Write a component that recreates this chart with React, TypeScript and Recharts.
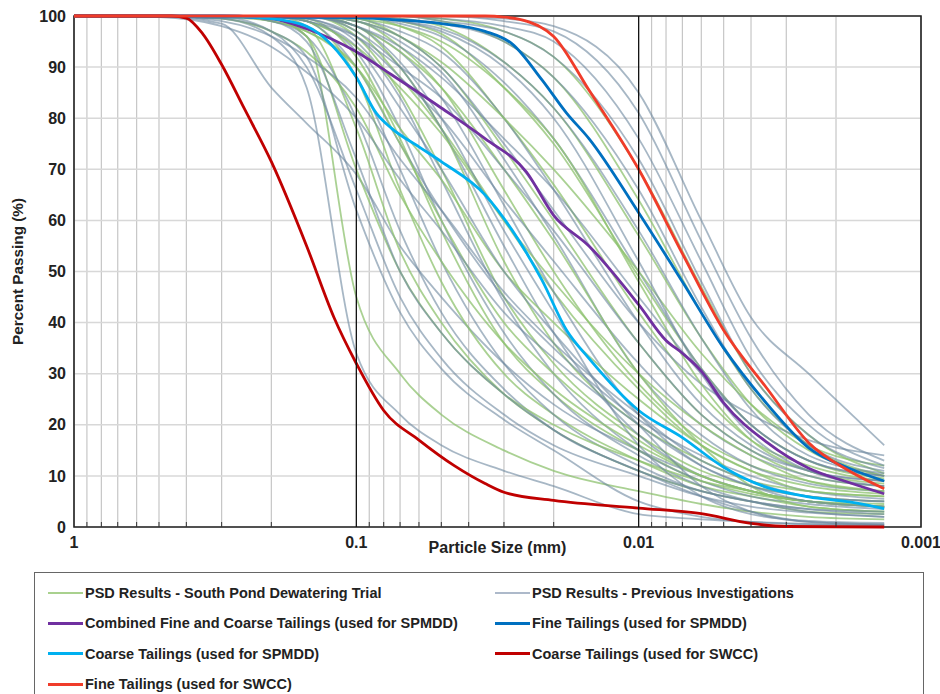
import React from 'react';
import {
  LineChart,
  Line,
  XAxis,
  YAxis,
  CartesianGrid,
  ReferenceLine,
  ReferenceArea,
  Label,
} from 'recharts';

// axis ticks
const SIZE_TICKS = [1, 0.1, 0.01, 0.001];
const SIZE_MINOR = [
  0.9, 0.8, 0.7, 0.6, 0.5, 0.4, 0.3, 0.2,
  0.09, 0.08, 0.07, 0.06, 0.05, 0.04, 0.03, 0.02,
  0.009, 0.008, 0.007, 0.006, 0.005, 0.004, 0.003, 0.002,
];
const PCT_TICKS = [0, 10, 20, 30, 40, 50, 60, 70, 80, 90, 100];
const PCT_MINOR = [5, 15, 25, 35, 45, 55, 65, 75, 85, 95];

// particle sizes (mm) used for the background PSD results
const SIZES = [1, 0.5, 0.3, 0.2, 0.15, 0.1, 0.07, 0.05, 0.03, 0.02, 0.01, 0.006, 0.004, 0.0025, 0.00135];

// PSD Results - South Pond Dewatering Trial (% passing at SIZES)
const TRIAL_RESULTS = [
  [100, 100, 100, 99.5, 96, 45, 30, 22, 15, 11, 7, 4.5, 3, 2, 1.5],
  [100, 100, 100, 100, 98, 78, 54, 40, 26, 19, 11, 7, 5, 3, 2.5],
  [100, 100, 100, 100, 99, 88, 66, 48, 30, 22, 13, 8, 6, 4, 3],
  [100, 100, 100, 100, 99.5, 92, 76, 58, 36, 26, 15, 9, 6.5, 5, 4],
  [100, 100, 100, 100, 100, 96, 85, 70, 45, 32, 18, 11, 8, 6, 5],
  [100, 100, 100, 100, 100, 98, 90, 78, 52, 36, 20, 13, 9, 7, 6],
  [100, 100, 100, 100, 100, 97, 88, 78, 60, 46, 27, 16, 11, 8, 6.5],
  [100, 100, 100, 100, 100, 99, 94, 86, 66, 50, 28, 17, 12, 9, 7],
  [100, 100, 100, 100, 100, 99.5, 96, 90, 74, 60, 36, 22, 15, 10, 8],
  [100, 100, 100, 100, 100, 100, 98, 94, 80, 67, 42, 26, 17, 12, 9],
  [100, 100, 100, 100, 100, 100, 99, 96.5, 86, 75, 49, 31, 20, 13, 9.5],
  [100, 100, 100, 100, 100, 100, 99.5, 98, 91, 82, 57, 37, 24, 15, 10],
  [100, 100, 100, 100, 100, 100, 100, 99, 95, 88, 64, 42, 27, 16, 10],
  [100, 100, 100, 100, 100, 100, 100, 99.5, 97, 92, 70, 47, 30, 18, 10.5],
  [100, 100, 100, 100, 100, 99, 96, 91, 80, 70, 50, 34, 24, 16, 12],
  [100, 100, 100, 100, 100, 98, 93, 86, 70, 56, 30, 16, 8, 4, 3],
  [100, 100, 100, 99.5, 96, 70, 50, 38, 26, 20, 13, 9, 7, 5, 4.5],
  [100, 100, 99.8, 99, 97, 90, 78, 68, 50, 40, 25, 16, 11, 7, 6],
  [100, 100, 99.5, 97, 93, 82, 65, 52, 36, 27, 16, 10, 7, 5, 4],
  [100, 100, 100, 99, 97, 90, 75, 60, 40, 30, 17, 10, 7, 5, 4],
  [100, 100, 100, 100, 100, 99.5, 98, 95, 86, 76, 48, 28, 17, 11, 8.5],
  [100, 100, 100, 100, 99, 94, 86, 77, 60, 48, 30, 20, 14, 9, 7],
];

// PSD Results - Previous Investigations (% passing at SIZES)
const PREVIOUS_RESULTS = [
  [100, 100, 99.5, 96, 86, 34, 22, 16, 11, 8, 2.5, 1.5, 1, 0.6, 0.3],
  [100, 100, 98.5, 86, 79, 69, 55, 45, 32, 24, 15, 10, 7, 5, 4],
  [100, 100, 99.8, 97, 90, 66, 45, 33, 22, 16, 10, 6, 4, 2.8, 2],
  [100, 100, 100, 99, 96, 80, 58, 42, 27, 19, 11, 6, 3, 1, 0.5],
  [100, 100, 100, 99.5, 98, 88, 70, 52, 32, 22, 12, 7, 5, 3.5, 2.5],
  [100, 100, 100, 100, 99, 93, 78, 60, 38, 26, 14, 8, 5, 3, 2],
  [100, 100, 100, 100, 99.5, 95, 84, 68, 44, 30, 15, 9, 6, 4.5, 3.5],
  [100, 100, 100, 100, 99, 90, 75, 62, 45, 35, 21, 14, 10, 7, 5.5],
  [100, 100, 100, 100, 100, 97, 90, 78, 55, 38, 18, 10, 7, 5, 4],
  [100, 100, 100, 100, 100, 98, 93, 84, 63, 46, 22, 12, 8, 6, 5],
  [100, 100, 100, 100, 99.5, 96, 88, 80, 64, 52, 32, 20, 14, 10, 8],
  [100, 100, 100, 100, 100, 99, 95, 89, 72, 57, 30, 18, 12, 8.5, 7],
  [100, 100, 100, 100, 100, 99.5, 97, 93, 80, 66, 40, 24, 16, 11, 9],
  [100, 100, 100, 100, 100, 100, 98.5, 96, 87, 76, 50, 31, 20, 13, 10],
  [100, 100, 100, 100, 100, 100, 99, 97.5, 91, 82, 58, 37, 23, 14, 10.5],
  [100, 100, 100, 100, 100, 100, 99.5, 98.5, 95, 88, 66, 43, 27, 16, 11],
  [100, 100, 100, 100, 100, 100, 100, 99, 97, 92, 72, 48, 30, 18, 11.5],
  [100, 100, 100, 100, 100, 100, 100, 99.5, 98, 95, 76, 52, 33, 20, 12],
  [100, 100, 100, 100, 100, 100, 100, 100, 99, 97, 81, 56, 37, 22, 13],
  [100, 100, 100, 100, 100, 100, 100, 100, 99.5, 98, 85, 60, 41, 30, 16],
  [100, 100, 100, 100, 100, 99, 96, 90, 75, 62, 40, 28, 22, 17, 14],
  [100, 100, 100, 100, 99, 94, 82, 70, 50, 38, 20, 8, 3, 1, 0.5],
  [100, 100, 100, 100, 100, 98, 91, 80, 58, 42, 16, 6, 2.5, 1.2, 0.8],
  [100, 100, 100, 99.8, 99, 96, 90, 84, 70, 58, 36, 22, 15, 11, 9],
  [100, 100, 100, 99, 95, 72, 50, 38, 26, 19, 11, 7, 5, 3.5, 3],
  [100, 100, 99.5, 97, 92, 62, 42, 31, 21, 15, 5, 2, 1, 0.5, 0.3],
  [100, 99.8, 98, 94, 89, 80, 68, 58, 42, 33, 20, 12, 8, 5, 4],
  [100, 100, 99, 96, 92, 84, 72, 62, 46, 36, 22, 13, 9, 6, 5],
  [100, 100, 100, 100, 100, 99.8, 99, 97, 90, 80, 52, 30, 18, 11, 8],
  [100, 100, 100, 100, 99.8, 98, 94, 88, 76, 66, 45, 30, 20, 13, 10],
];

// highlighted curves
const COMBINED_SIZE = [1, 0.3, 0.2, 0.15, 0.1, 0.075, 0.05, 0.035, 0.025, 0.02, 0.015, 0.01, 0.008, 0.007, 0.006, 0.005, 0.0035, 0.0025, 0.0018, 0.00135];
const COMBINED_PCT = [100, 100, 99.5, 97.5, 93, 88.5, 82, 76, 69.5, 61, 55, 43.5, 36.5, 34, 30.5, 24.3, 16.5, 11.5, 8.7, 6.5];

const FINE_SPMDD_SIZE = [1, 0.1, 0.075, 0.05, 0.035, 0.028, 0.022, 0.018, 0.015, 0.01, 0.007, 0.005, 0.0035, 0.0025, 0.0018, 0.00135];
const FINE_SPMDD_PCT = [100, 99.7, 99.3, 98.5, 97, 94.5, 87.5, 81, 76, 61.5, 48, 35, 24, 15.5, 11.5, 9];

const COARSE_SPMDD_SIZE = [1, 0.3, 0.2, 0.15, 0.1, 0.085, 0.075, 0.06, 0.05, 0.035, 0.028, 0.025, 0.022, 0.018, 0.015, 0.01, 0.007, 0.005, 0.0035, 0.0025, 0.0018, 0.00135];
const COARSE_SPMDD_PCT = [100, 100, 99.5, 98, 88, 81, 78, 74.4, 71.5, 65, 58, 53.7, 48.3, 38.5, 33, 22.8, 17.5, 11.7, 7.7, 5.9, 4.9, 3.6];

const COARSE_SWCC_SIZE = [1, 0.45, 0.4, 0.35, 0.3, 0.25, 0.2, 0.15, 0.12, 0.1, 0.08, 0.06, 0.045, 0.035, 0.03, 0.02, 0.01, 0.006, 0.004, 0.003, 0.00135];
const COARSE_SWCC_PCT = [100, 100, 99.6, 96.5, 90.5, 82, 71.5, 55, 41, 32, 22.8, 17, 12, 8.5, 6.8, 5.2, 3.7, 2.6, 0.7, 0.1, 0];

const FINE_SWCC_SIZE = [1, 0.1, 0.035, 0.03, 0.025, 0.02, 0.015, 0.01, 0.007, 0.005, 0.0035, 0.0025, 0.0018, 0.00135];
const FINE_SWCC_PCT = [100, 100, 100, 99.8, 99, 96, 85.5, 70, 53.5, 38.5, 27, 16.5, 11, 7.5];

const TRIAL_COLOR = '#8DC26F';
const PREVIOUS_COLOR = '#6D879F';
const PURPLE = '#7030A0';
const BLUE = '#0070C0';
const LIGHT_BLUE = '#00B0F0';
const DARK_RED = '#C00000';
const RED = '#F03C2A';

const FONT = '"Liberation Sans", Arial, sans-serif';

const LEGEND_ITEMS = [
  { label: 'PSD Results - South Pond Dewatering Trial', color: '#A9D18E', width: 2 },
  { label: 'PSD Results - Previous Investigations', color: '#ADB9CA', width: 2 },
  { label: 'Combined Fine and Coarse Tailings (used for SPMDD)', color: PURPLE, width: 3 },
  { label: 'Fine Tailings (used for SPMDD)', color: BLUE, width: 3 },
  { label: 'Coarse Tailings (used for SPMDD)', color: LIGHT_BLUE, width: 3 },
  { label: 'Coarse Tailings (used for SWCC)', color: DARK_RED, width: 3 },
  { label: 'Fine Tailings (used for SWCC)', color: RED, width: 3 },
];

const toPoints = (sizes: number[], pct: number[]) =>
  sizes.map((x, i) => ({ x, y: pct[i] }));

const HIGHLIGHTS = [
  { id: 'combined', sizes: COMBINED_SIZE, pct: COMBINED_PCT, color: PURPLE },
  { id: 'fineSpmdd', sizes: FINE_SPMDD_SIZE, pct: FINE_SPMDD_PCT, color: BLUE },
  { id: 'coarseSpmdd', sizes: COARSE_SPMDD_SIZE, pct: COARSE_SPMDD_PCT, color: LIGHT_BLUE },
  { id: 'coarseSwcc', sizes: COARSE_SWCC_SIZE, pct: COARSE_SWCC_PCT, color: DARK_RED },
  { id: 'fineSwcc', sizes: FINE_SWCC_SIZE, pct: FINE_SWCC_PCT, color: RED },
];

const tickStyle = { fontSize: 16, fontWeight: 700, fill: '#222', fontFamily: FONT };

const NoTick = () => <g />;

export default function App() {
  const background: React.ReactNode[] = [];
  const n = Math.max(TRIAL_RESULTS.length, PREVIOUS_RESULTS.length);
  for (let i = 0; i < n; i++) {
    if (PREVIOUS_RESULTS[i]) {
      background.push(
        <Line
          key={'prev' + i}
          data={toPoints(SIZES, PREVIOUS_RESULTS[i])}
          dataKey="y"
          type="monotone"
          stroke={PREVIOUS_COLOR}
          strokeOpacity={0.6}
          strokeWidth={1.8}
          dot={false}
          activeDot={false}
          isAnimationActive={false}
        />
      );
    }
    if (TRIAL_RESULTS[i]) {
      background.push(
        <Line
          key={'trial' + i}
          data={toPoints(SIZES, TRIAL_RESULTS[i])}
          dataKey="y"
          type="monotone"
          stroke={TRIAL_COLOR}
          strokeOpacity={0.75}
          strokeWidth={1.8}
          dot={false}
          activeDot={false}
          isAnimationActive={false}
        />
      );
    }
  }

  return (
    <div
      style={{
        position: 'absolute',
        left: 0,
        top: 0,
        width: 940,
        height: 694,
        overflow: 'hidden',
        background: '#fff',
        fontFamily: FONT,
      }}
    >
      <LineChart width={940} height={694} margin={{ top: 16, right: 19, left: 0, bottom: 131 }}>
        <CartesianGrid xAxisId="minor" horizontal={false} stroke="#c6c6c6" strokeWidth={1.2} />
        <CartesianGrid vertical={false} stroke="#d8d8d8" strokeWidth={1.5} />
        <XAxis
          dataKey="x"
          type="number"
          scale="log"
          domain={[0.001, 1]}
          reversed
          allowDataOverflow
          ticks={SIZE_TICKS}
          tickFormatter={(v: number) => String(v)}
          tick={tickStyle}
          tickLine={false}
          axisLine={false}
          tickSize={0}
          tickMargin={10}
          height={36}
        >
          <Label
            value="Particle Size (mm)"
            position="insideBottom"
            offset={10}
            style={{ fontSize: 16, fontWeight: 700, fill: '#222', fontFamily: FONT }}
          />
        </XAxis>
        <XAxis
          xAxisId="minor"
          dataKey="x"
          type="number"
          scale="log"
          domain={[0.001, 1]}
          reversed
          allowDataOverflow
          ticks={SIZE_MINOR}
          interval={0}
          tick={<NoTick />}
          tickLine={{ stroke: '#333' }}
          tickSize={5}
          axisLine={false}
          mirror
          height={1}
        />
        <YAxis
          type="number"
          domain={[0, 100]}
          ticks={PCT_TICKS}
          tick={tickStyle}
          tickLine={false}
          axisLine={false}
          tickSize={0}
          tickMargin={8}
          width={74}
        >
          <Label
            content={(p: any) => {
              const vb = p.viewBox || { x: 0, y: 16, height: 511 };
              const cx = vb.x + 17;
              const cy = vb.y + vb.height / 2;
              return (
                <text
                  x={cx}
                  y={cy}
                  transform={`rotate(-90 ${cx} ${cy})`}
                  textAnchor="middle"
                  dominantBaseline="central"
                  style={{ fontSize: 15.3, fontWeight: 700, fill: '#222', fontFamily: FONT }}
                >
                  Percent Passing (%)
                </text>
              );
            }}
          />
        </YAxis>
        <YAxis
          yAxisId="minor"
          type="number"
          domain={[0, 100]}
          ticks={PCT_MINOR}
          interval={0}
          tick={<NoTick />}
          tickLine={{ stroke: '#333' }}
          tickSize={5}
          axisLine={false}
          mirror
          width={1}
        />

        {background}

        {HIGHLIGHTS.map((h) => (
          <Line
            key={h.id}
            data={toPoints(h.sizes, h.pct)}
            dataKey="y"
            type="monotone"
            stroke={h.color}
            strokeWidth={2.8}
            dot={false}
            activeDot={false}
            isAnimationActive={false}
          />
        ))}

        <ReferenceLine x={0.1} stroke="#111" strokeWidth={1.3} />
        <ReferenceLine x={0.01} stroke="#111" strokeWidth={1.3} />
        <ReferenceArea x1={1} x2={0.001} y1={0} y2={100} fill="none" stroke="#222" strokeWidth={1.6} />
      </LineChart>

      <div
        style={{
          position: 'absolute',
          left: 34,
          top: 572,
          width: 890,
          height: 140,
          border: '1px solid #666',
          boxSizing: 'border-box',
        }}
      >
        {LEGEND_ITEMS.map((item, i) => {
          const row = Math.floor(i / 2);
          const col = i % 2;
          return (
            <div
              key={item.label}
              style={{
                position: 'absolute',
                left: col ? 460 : 13,
                top: 8 + row * 30.4,
                height: 24,
                display: 'flex',
                alignItems: 'center',
                whiteSpace: 'nowrap',
              }}
            >
              <span
                style={{
                  display: 'inline-block',
                  width: 35,
                  height: item.width,
                  background: item.color,
                  marginRight: 2,
                }}
              />
              <span style={{ fontSize: 14.5, fontWeight: 700, color: '#222' }}>{item.label}</span>
            </div>
          );
        })}
      </div>
    </div>
  );
}
